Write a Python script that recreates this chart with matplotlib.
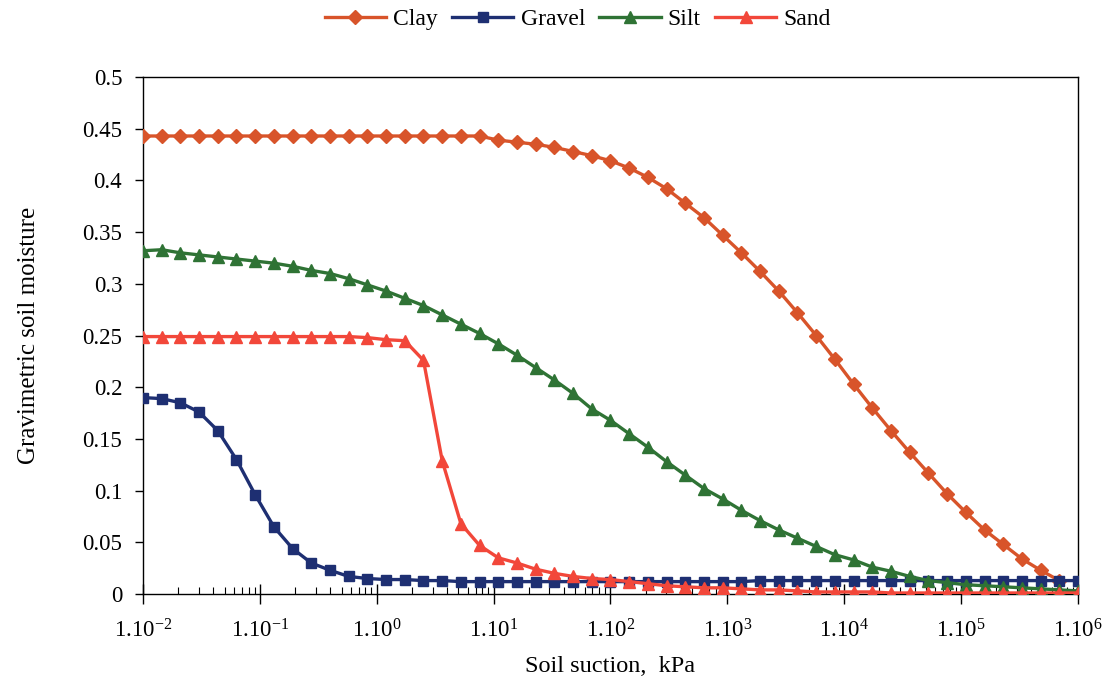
import numpy as np
import matplotlib
matplotlib.use("Agg")
import matplotlib.pyplot as plt
from matplotlib.ticker import FixedLocator, LogLocator, NullFormatter

plt.rcParams['font.family'] = ['Liberation Serif', 'DejaVu Serif']
plt.rcParams['mathtext.fontset'] = 'custom'
plt.rcParams['mathtext.rm'] = 'Liberation Serif'

# Soil suction (kPa): 51 log-spaced points, 1e-2 .. 1e6
log_suction = [-2.0 + 0.16 * i for i in range(51)]
suction = [10 ** v for v in log_suction]

clay = [0.443] * 19 + [0.439, 0.437, 0.435, 0.432, 0.428, 0.424, 0.419, 0.412, 0.403,
                       0.392, 0.378, 0.364, 0.347, 0.330, 0.312, 0.293, 0.272, 0.250,
                       0.227, 0.203, 0.180, 0.158, 0.137, 0.117, 0.097, 0.079, 0.062,
                       0.048, 0.034, 0.023, 0.013]
gravel = [0.190, 0.189, 0.185, 0.176, 0.158, 0.130, 0.096, 0.065, 0.044, 0.030, 0.023,
          0.017, 0.015, 0.014, 0.014, 0.013, 0.013, 0.012, 0.012, 0.012, 0.012, 0.012,
          0.012, 0.012, 0.012, 0.012, 0.012, 0.012, 0.012, 0.012, 0.012, 0.012, 0.012,
          0.013, 0.013, 0.013, 0.013, 0.013, 0.013, 0.013, 0.013, 0.013, 0.013, 0.013,
          0.013, 0.013, 0.013, 0.013, 0.013, 0.013, 0.013]
silt = [0.332, 0.333, 0.330, 0.328, 0.326, 0.324, 0.322, 0.320, 0.317, 0.313, 0.310,
        0.305, 0.299, 0.293, 0.286, 0.279, 0.270, 0.261, 0.252, 0.242, 0.231, 0.219,
        0.207, 0.194, 0.179, 0.168, 0.155, 0.142, 0.128, 0.115, 0.102, 0.092, 0.081,
        0.071, 0.062, 0.054, 0.046, 0.038, 0.033, 0.026, 0.022, 0.017, 0.013, 0.011,
        0.009, 0.008, 0.007, 0.006, 0.005, 0.004, 0.003]
sand = [0.249, 0.249, 0.249, 0.249, 0.249, 0.249, 0.249, 0.249, 0.249, 0.249, 0.249,
        0.249, 0.248, 0.246, 0.245, 0.226, 0.129, 0.068, 0.047, 0.035, 0.030, 0.024,
        0.020, 0.017, 0.015, 0.014, 0.012, 0.010, 0.008, 0.007, 0.006, 0.006, 0.005,
        0.004, 0.004, 0.003, 0.002, 0.002, 0.002, 0.002, 0.001, 0.001, 0.001, 0.001,
        0.001, 0.001, 0.001, 0.001, 0.001, 0.001, 0.001]

series = [
    ("Clay", clay, '#D8542A', 'D', 7.5),
    ("Gravel", gravel, '#1E2F72', 's', 7.5),
    ("Silt", silt, '#2F7335', '^', 9),
    ("Sand", sand, '#F2473A', '^', 9),
]

y_ticks = [0, 0.05, 0.1, 0.15, 0.2, 0.25, 0.3, 0.35, 0.4, 0.45, 0.5]
y_labels = ['0', '0.05', '0.1', '0.15', '0.2', '0.25', '0.3', '0.35', '0.4', '0.45', '0.5']
x_exps = [-2, -1, 0, 1, 2, 3, 4, 5, 6]

fig = plt.figure(figsize=(11.11, 6.82), dpi=100)
ax = fig.add_axes([0.1287, 0.129, 0.8416, 0.758])

handles = []
for name, vals, color, mk, ms in series:
    h, = ax.plot(suction[:len(vals)], vals, color=color, lw=2.4, marker=mk,
                 markersize=ms, markerfacecolor=color, markeredgecolor=color,
                 label=name, zorder=3)
    handles.append(h)

ax.set_xscale('log')
ax.set_xlim(1e-2, 1e6)
ax.set_ylim(0, 0.5)
ax.xaxis.set_major_locator(FixedLocator([10.0 ** e for e in x_exps]))
ax.set_xticklabels([r'$\mathregular{1.10^{%d}}$' % e for e in x_exps], fontsize=16.5)
ax.xaxis.set_minor_locator(LogLocator(base=10, subs=np.arange(2, 10), numticks=100))
ax.xaxis.set_minor_formatter(NullFormatter())
ax.set_yticks(y_ticks)
ax.set_yticklabels(y_labels, fontsize=16.5)

ax.tick_params(axis='x', which='major', direction='inout', length=14, width=1, pad=11)
ax.tick_params(axis='x', which='minor', direction='in', length=5, width=0.8)
ax.tick_params(axis='y', which='major', direction='out', length=6, width=1, pad=9)
for s in ax.spines.values():
    s.set_linewidth(1.0)
    s.set_color('black')

ax.set_xlabel('Soil suction,  kPa', fontsize=17.5, labelpad=10)
ax.set_ylabel('Gravimetric soil moisture', fontsize=18, labelpad=30)

fig.legend(handles=handles, loc='center', bbox_to_anchor=(0.52, 0.972), ncol=4,
           frameon=False, fontsize=17, handlelength=2.6, columnspacing=0.6,
           handletextpad=0.3)

fig.savefig('out.png', dpi=100)
